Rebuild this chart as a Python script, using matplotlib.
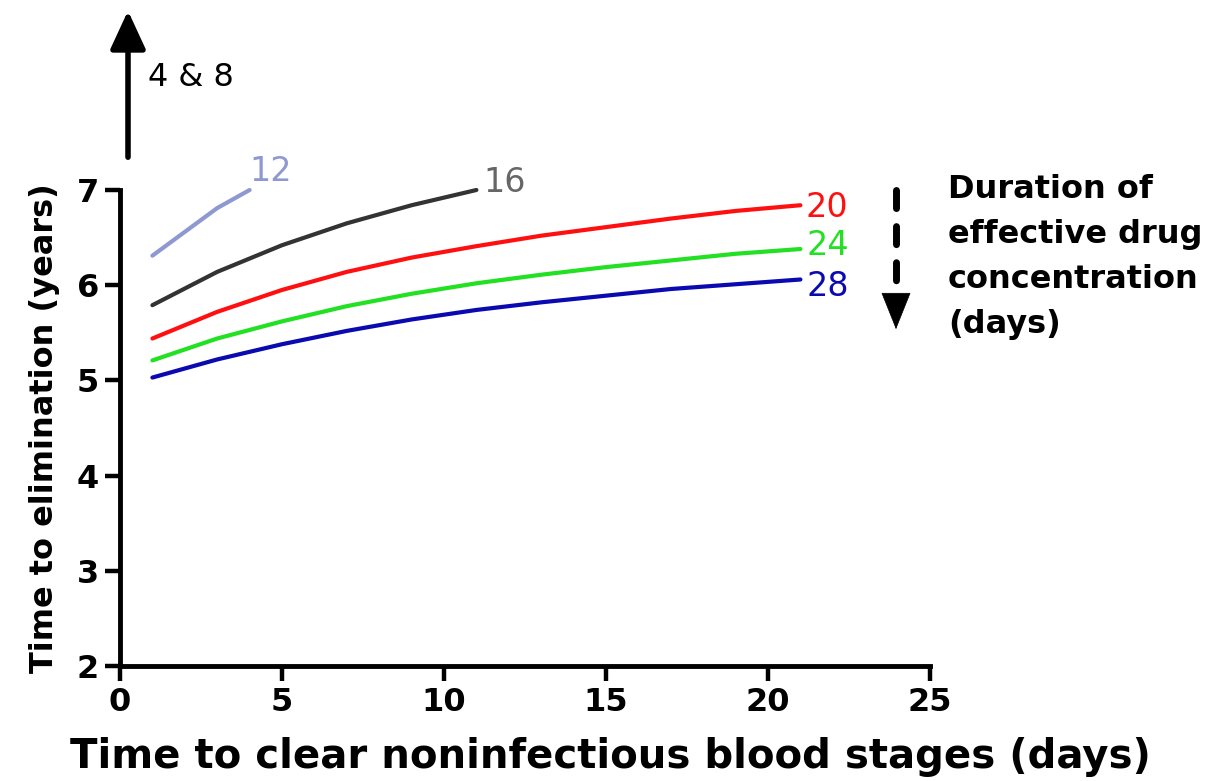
import matplotlib
matplotlib.use("Agg")
import matplotlib.pyplot as plt

plt.rcParams['font.family'] = ['DejaVu Sans']

# Data (x: time to clear noninfectious blood stages, days; y: time to elimination, years)
x12 = [1, 3, 4]
y12 = [6.31, 6.81, 7.0]
x16 = [1, 3, 5, 7, 9, 11]
y16 = [5.79, 6.14, 6.42, 6.65, 6.84, 7.0]
x_long = [1, 3, 5, 7, 9, 11, 13, 15, 17, 19, 21]
y20 = [5.44, 5.72, 5.95, 6.14, 6.29, 6.41, 6.52, 6.61, 6.70, 6.78, 6.84]
y24 = [5.21, 5.44, 5.62, 5.78, 5.91, 6.02, 6.11, 6.19, 6.26, 6.33, 6.38]
y28 = [5.03, 5.22, 5.38, 5.52, 5.64, 5.74, 5.82, 5.89, 5.96, 6.01, 6.06]
series_labels = ['12', '16', '20', '24', '28']
x_ticks = [0, 5, 10, 15, 20, 25]
y_ticks = [2, 3, 4, 5, 6, 7]

fig = plt.figure(figsize=(12.07, 7.81), dpi=100)
ax = fig.add_axes([120/1207, 1 - 666/781, 810/1207, 476/781])

series = [
    (x12, y12, '#8e99d2', '#8e99d2', series_labels[0]),
    (x16, y16, '#333333', '#666666', series_labels[1]),
    (x_long, y20, '#ff1010', '#ff1010', series_labels[2]),
    (x_long, y24, '#22e022', '#22e022', series_labels[3]),
    (x_long, y28, '#0a0ab0', '#0a0ab0', series_labels[4]),
]
label_offsets = {'12': (0.0, 0.19), '16': (0.2, 0.08), '20': (0.15, -0.02),
                 '24': (0.2, 0.04), '28': (0.2, -0.07)}
for (xs, ys, lc, tc, lab) in series:
    ax.plot(xs, ys, color=lc, lw=3, solid_capstyle='round', clip_on=False)
    dx, dy = label_offsets[lab]
    ax.text(xs[-1] + dx, ys[-1] + dy, lab, color=tc, fontsize=24,
            ha='left', va='center')

ax.set_xlim(0, 25)
ax.set_ylim(2, 7)
ax.set_xticks(x_ticks)
ax.set_yticks(y_ticks)
for s in ['top', 'right']:
    ax.spines[s].set_visible(False)
for s in ['left', 'bottom']:
    ax.spines[s].set_linewidth(3.5)
ax.tick_params(axis='both', which='major', length=11, width=3.2, labelsize=23, pad=4)
for lbl in ax.get_xticklabels() + ax.get_yticklabels():
    lbl.set_fontweight('bold')

ax.set_xlabel('Time to clear noninfectious blood stages (days)', fontsize=29,
              fontweight='bold')
ax.xaxis.set_label_coords((610 - 120) / 810, -(757 - 666) / 476)
ax.xaxis.label.set_va('center')
ax.set_ylabel('Time to elimination (years)', fontsize=23, fontweight='bold', labelpad=12)

# Up arrow (4 & 8)
fig.patches.append(matplotlib.patches.FancyArrowPatch(
    (128/1207, 1 - 160/781), (128/1207, 1 - 8/781), transform=fig.transFigure,
    arrowstyle='-|>,head_length=1.3,head_width=0.6', mutation_scale=18,
    color='black', lw=4))
fig.text(148/1207, 1 - 78/781, '4 & 8', fontsize=23, ha='left', va='center')

# Dashed down arrow
fig.add_artist(matplotlib.lines.Line2D([896/1207, 896/1207], [1 - 190/781, 1 - 284/781],
                                       color='black', lw=5, linestyle=(0, (2.6, 2.6)),
                                       dash_capstyle='round'))
fig.patches.append(matplotlib.patches.FancyArrowPatch(
    (896/1207, 1 - 294/781), (896/1207, 1 - 332/781), transform=fig.transFigure,
    arrowstyle='-|>,head_length=1.4,head_width=0.56', mutation_scale=18,
    color='black', lw=0.5))
fig.text(948/1207, 1 - 174/781, 'Duration of\neffective drug\nconcentration\n(days)',
         fontsize=23, fontweight='bold', ha='left', va='top', linespacing=1.58)

fig.savefig('out.png', dpi=100)
